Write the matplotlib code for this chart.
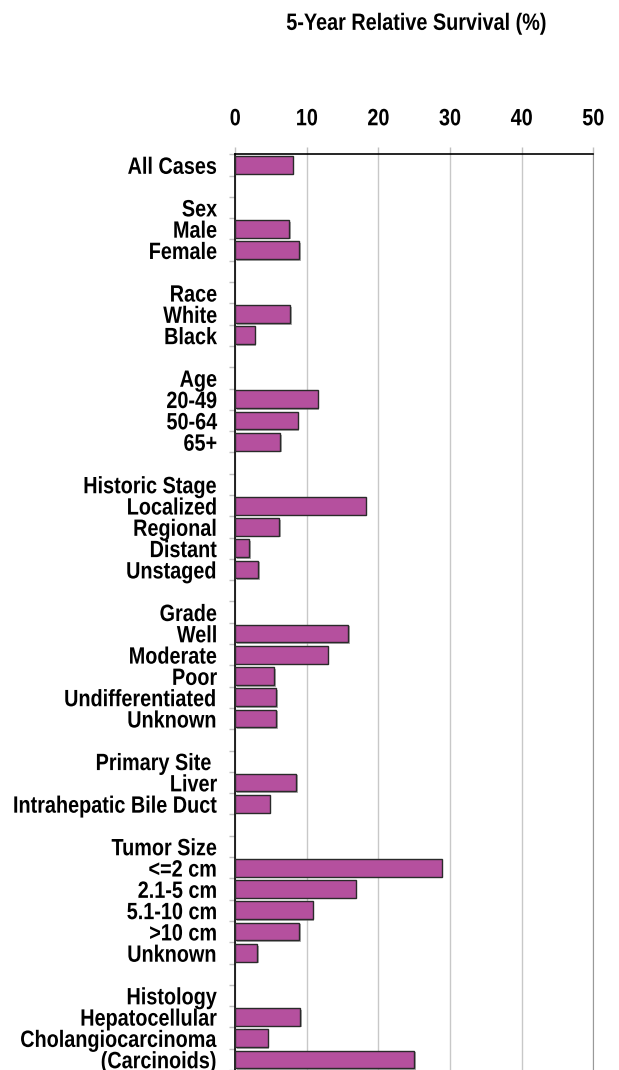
import numpy as np
import matplotlib
matplotlib.use("Agg")
import matplotlib.pyplot as plt
import matplotlib.patheffects as pe
from matplotlib.transforms import Affine2D
from matplotlib.ticker import FixedLocator

plt.rcParams['font.family'] = ['Liberation Sans', 'DejaVu Sans']
plt.rcParams['font.weight'] = 'bold'

# rows from top to bottom; "" = spacer row, nan = group header (no bar)
labels = ["All Cases", "",
          "Sex", "Male", "Female", "",
          "Race", "White", "Black", "",
          "Age", "20-49", "50-64", "65+", "",
          "Historic Stage", "Localized", "Regional", "Distant", "Unstaged", "",
          "Grade", "Well", "Moderate", "Poor", "Undifferentiated", "Unknown", "",
          "Primary Site ", "Liver", "Intrahepatic Bile Duct", "",
          "Tumor Size", "<=2 cm", "2.1-5 cm", "5.1-10 cm", ">10 cm", "Unknown", "",
          "Histology", "Hepatocellular", "Cholangiocarcinoma", "(Carcinoids)"]
nan = np.nan
survival = [8.0, nan,
            nan, 7.5, 8.9, nan,
            nan, 7.7, 2.7, nan,
            nan, 11.5, 8.7, 6.3, nan,
            nan, 18.2, 6.1, 1.9, 3.2, nan,
            nan, 15.8, 12.9, 5.4, 5.7, 5.7, nan,
            nan, 8.5, 4.8, nan,
            nan, 28.8, 16.8, 10.8, 8.9, 3.1, nan,
            nan, 9.05, 4.5, 25.0]
xticks = [0, 10, 20, 30, 40, 50]

SQ = 0.84           # narrow look: smaller font, stretched vertically
FS = 17 * SQ


class Tall(pe.AbstractPathEffect):
    """stretch glyphs vertically around mid cap height (no narrow font installed)"""
    def __init__(self, sy=1 / SQ, ymid=36):
        super().__init__()
        self.sy = sy
        self.ymid = ymid

    def draw_path(self, renderer, gc, tpath, affine, rgbFace=None):
        t = Affine2D().translate(0, -self.ymid).scale(1, self.sy).translate(0, self.ymid) + affine
        renderer.draw_path(gc, tpath, t, rgbFace)


n = len(labels)
ypos = np.arange(n)
vals = np.array(survival, dtype=float)
has_bar = ~np.isnan(vals)

fig = plt.figure(figsize=(6.19, 10.70), dpi=100)
ax = fig.add_axes([0.3801, 0.0, 0.9585 - 0.3801, 0.8558])

bars = ax.barh(ypos[has_bar], vals[has_bar], height=0.83, color='#b5509e',
               edgecolor='#2a2a2a', linewidth=1.0, zorder=3)
for b in bars:
    b.set_path_effects([pe.SimplePatchShadow(offset=(1.2, -1.2), shadow_rgbFace='#777777', alpha=0.6),
                        pe.Normal()])

ax.set_xlim(0, 50)
ax.set_ylim(n - 0.5, -0.5)
ax.xaxis.tick_top()
ax.set_xticks(xticks)
ax.set_xticklabels([str(t) for t in xticks], fontsize=FS, fontweight='bold')
ax.tick_params(axis='x', which='major', direction='out', length=5, width=1,
               color='#c0c0c0', pad=14)
ax.grid(axis='x', color='#c8c8c8', linewidth=1, zorder=0)
for t in ax.get_xticklabels():
    t.set_path_effects([Tall()])

ax.set_yticks(ypos)
ax.set_yticklabels(labels, fontsize=FS, fontweight='bold')
ax.tick_params(axis='y', which='major', length=0, pad=13)
ax.yaxis.set_minor_locator(FixedLocator(np.arange(n + 1) - 0.5))
ax.tick_params(axis='y', which='minor', direction='out', length=4, width=1, color='#c0c0c0')
for t in ax.get_yticklabels():
    t.set_path_effects([Tall()])

ax.spines['top'].set_color('black')
ax.spines['top'].set_linewidth(1.2)
ax.spines['left'].set_color('black')
ax.spines['left'].set_linewidth(1.2)
ax.spines['right'].set_color('#999999')
ax.spines['bottom'].set_visible(False)

title = fig.text(0.673, 1 - 23 / 1070, "5-Year Relative Survival (%)", ha='center', va='center',
                 fontsize=FS, fontweight='bold')
title.set_path_effects([Tall()])

fig.savefig("out.png", dpi=100)
